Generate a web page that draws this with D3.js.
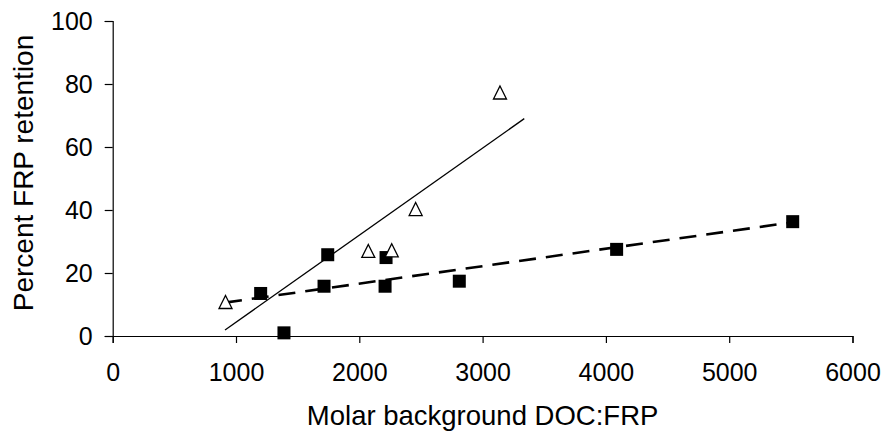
<!DOCTYPE html>
<html>
<head>
<meta charset="utf-8">
<script src="https://cdn.jsdelivr.net/npm/d3@7"></script>
<style>
  body { margin: 0; background: #fff; }
  text { font-family: "Liberation Sans", Arial, sans-serif; fill: #000; }
</style>
</head>
<body>
<div id="chart"></div>
<script>
// data
const squareX = [1200, 1389, 1714, 1744, 2209, 2217, 2811, 4087, 5515];
const squareY = [13.5, 1.0, 15.8, 25.8, 15.8, 24.9, 17.4, 27.5, 36.3];
const triangleX = [915, 2073, 2263, 2457, 3141];
const triangleY = [10.8, 27.0, 27.2, 40.3, 77.3];
// trend line end points
const solidLineX = [911, 3338];
const solidLineY = [1.9, 69.0];
const dashLineX = [911, 5515];
const dashLineY = [10.6, 36.1];
const xTicks = [0, 1000, 2000, 3000, 4000, 5000, 6000];
const yTicks = [0, 20, 40, 60, 80, 100];

const width = 882, height = 432;
const margin = { left: 112.7, right: 852.5, top: 21, bottom: 336 };

const svg = d3.select("#chart").append("svg")
    .attr("width", width)
    .attr("height", height);

const x = d3.scaleLinear().domain([0, 6000]).range([margin.left, margin.right]);
const y = d3.scaleLinear().domain([0, 100]).range([margin.bottom, margin.top]);

//axes
svg.append("g")
    .attr("transform", "translate(0," + margin.bottom + ")")
    .call(d3.axisBottom(x).tickValues(xTicks).tickFormat(d3.format("d"))
        .tickSizeOuter(0).tickSize(7).tickPadding(20));
svg.append("g")
    .attr("transform", "translate(" + margin.left + ",0)")
    .call(d3.axisLeft(y).tickValues(yTicks).tickFormat(d3.format("d"))
        .tickSizeOuter(0).tickSize(8).tickPadding(12));

svg.selectAll(".tick text")
    .style("font-size", "25px")
    .style("font-family", "'Liberation Sans', Arial, sans-serif");
svg.selectAll(".domain, .tick line")
    .attr("stroke", "#000")
    .attr("stroke-width", 1.2);

//axis titles
svg.append("text")
    .attr("x", (margin.left + margin.right) / 2)
    .attr("y", 425)
    .attr("text-anchor", "middle")
    .style("font-size", "27.5px")
    .text("Molar background DOC:FRP");

svg.append("text")
    .attr("transform", "translate(33," + 173 + ") rotate(-90)")
    .attr("text-anchor", "middle")
    .style("font-size", "28px")
    .text("Percent FRP retention");

//trend lines
const line = d3.line().x(d => x(d[0])).y(d => y(d[1]));

svg.append("path")
    .datum(d3.zip(solidLineX, solidLineY))
    .attr("d", line)
    .attr("fill", "none")
    .attr("stroke", "#000")
    .attr("stroke-width", 1.3);

svg.append("path")
    .datum(d3.zip(dashLineX, dashLineY))
    .attr("d", line)
    .attr("fill", "none")
    .attr("stroke", "#000")
    .attr("stroke-width", 2.6)
    .attr("stroke-dasharray", "17,10");

//markers
const sq = 13;
svg.append("g").selectAll("rect")
    .data(d3.zip(squareX, squareY))
    .join("rect")
    .attr("x", d => x(d[0]) - sq / 2)
    .attr("y", d => y(d[1]) - sq / 2)
    .attr("width", sq)
    .attr("height", sq)
    .attr("fill", "#000");

const tri = 13;
svg.append("g").selectAll("path")
    .data(d3.zip(triangleX, triangleY))
    .join("path")
    .attr("transform", d => "translate(" + x(d[0]) + "," + y(d[1]) + ")")
    .attr("d", "M0," + (-tri / 2) + "L" + (tri / 2) + "," + (tri / 2) + "L" + (-tri / 2) + "," + (tri / 2) + "Z")
    .attr("fill", "#fff")
    .attr("stroke", "#000")
    .attr("stroke-width", 1.3);
</script>
</body>
</html>
